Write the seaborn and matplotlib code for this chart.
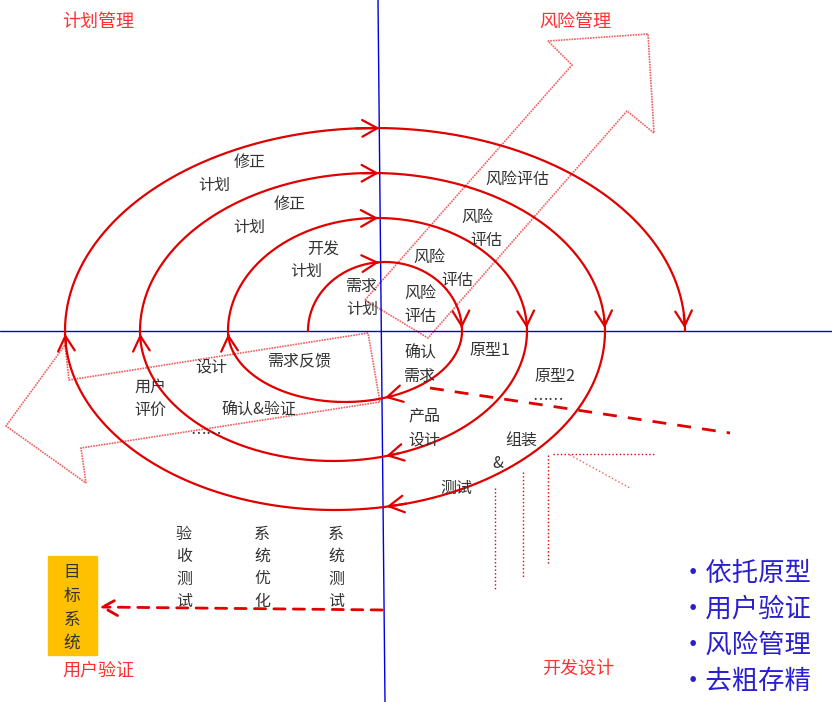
import numpy as np
import matplotlib
matplotlib.use("Agg")
import matplotlib.pyplot as plt
import seaborn as sns
from matplotlib.patches import Polygon, Rectangle

sns.set_theme(style="white")
plt.rcParams["font.family"] = ["Noto Sans CJK SC", "DejaVu Sans"]

RED = "#e00000"
GRAY = "#333333"

# spiral half-ellipses (pixel coords): left x, right x, top/bottom y
upper_left = [308, 228, 140, 65]
upper_right = [462, 527, 605, 685]
upper_top = [262, 218, 173, 128]
lower_right = [462, 527, 605]
lower_left = [228, 140, 65]
lower_bottom = [402, 461, 510]
axis_y = 331

labels = [
    ("修正", 250, 162), ("计划", 214, 185), ("修正", 290, 204), ("计划", 249, 227),
    ("开发", 323, 249), ("计划", 306, 271), ("需求", 362, 286), ("计划", 362, 309),
    ("风险评估", 517, 179), ("风险", 477, 217), ("评估", 486, 240),
    ("风险", 429, 257), ("评估", 457, 280), ("风险", 420, 293), ("评估", 420, 316),
    ("确认", 420, 353), ("需求", 420, 376), ("原型1", 490, 351), ("原型2", 555, 376),
    ("……", 548, 401), ("产品", 424, 416), ("设计", 424, 440),
    ("组装", 521, 441), ("&", 498, 464), ("测试", 456, 488),
    ("设计", 211, 367), ("需求反馈", 300, 361), ("用户", 150, 387), ("评价", 150, 410),
    ("确认&验证", 259, 410), ("……", 206, 434),
]
corner_titles = [("计划管理", 98, 22), ("风险管理", 575, 22), ("用户验证", 98, 670), ("开发设计", 578, 670)]
vertical_labels = [("验收测试", 184), ("系统优化", 262), ("系统测试", 336)]
target_label = "目标系统"
bullets = ["·依托原型", "·用户验证", "·风险管理", "·去粗存精"]

fig = plt.figure(figsize=(8.32, 7.02), dpi=100)
ax = fig.add_axes([0, 0, 1, 1])
ax.set_xlim(0, 832)
ax.set_ylim(702, 0)
ax.axis("off")

# blue axes
ax.plot([0, 832], [axis_y, axis_y], color="#0000dd", lw=1)
ax.plot([378, 385], [0, 702], color="#0000dd", lw=1)

# hollow dotted arrows
up_arrow = [(365, 300), (572, 65), (548, 41), (648, 34), (654, 133), (627, 111), (428, 338)]
left_arrow = [(368, 333), (69, 380), (65, 345), (6, 426), (86, 483), (81, 448), (380, 402)]
for pts in (up_arrow, left_arrow):
    ax.add_patch(Polygon(pts, closed=True, fill=False, ec="#f06060", lw=1.2, ls=(0, (1, 0.6))))


def half_ellipse(x0, x1, y_ext, upper, n=200):
    cx, rx = (x0 + x1) / 2, (x1 - x0) / 2
    ry = abs(axis_y - y_ext)
    t = np.linspace(np.pi, 0, n) if upper else np.linspace(0, -np.pi, n)
    return cx + rx * np.cos(t), axis_y - ry * np.sin(t)


def head(x, y, i, step=6):
    ax.annotate("", xy=(x[i], y[i]), xytext=(x[i - step], y[i - step]),
                arrowprops=dict(arrowstyle="->,head_length=0.9,head_width=0.5", color=RED, lw=1.6))


for x0, x1, yt in zip(upper_left, upper_right, upper_top):
    x, y = half_ellipse(x0, x1, yt, True)
    ax.plot(x, y, color=RED, lw=1.6)
    head(x, y, len(x) - 1)
    head(x, y, int(np.argmin(np.abs(x - 382))))

for x1, x0, yb in zip(lower_right, lower_left, lower_bottom):
    x, y = half_ellipse(x0, x1, yb, False)
    ax.plot(x, y, color=RED, lw=1.6)
    head(x, y, len(x) - 1)
    head(x, y, int(np.argmin(np.abs(x - 382))))

# dashed / dotted red lines
ax.plot([430, 730], [388, 433], color=RED, lw=2, ls=(0, (5, 4)))
for vx, y0, y1 in [(495, 488, 590), (523, 472, 577), (548, 455, 565)]:
    ax.plot([vx, vx], [y0, y1], color=RED, lw=1, ls=":")
ax.plot([553, 655], [454, 454], color=RED, lw=1, ls=":")
ax.plot([570, 630], [455, 488], color="#f06060", lw=1, ls=":")
ax.annotate("", xy=(97, 607), xytext=(385, 610),
            arrowprops=dict(arrowstyle="->,head_length=0.9,head_width=0.5", color=RED, lw=2, ls=(0, (4, 3))))

for txt, x, y in labels:
    ax.text(x, y, txt, ha="center", va="center", fontsize=11.5, color=GRAY)
for txt, x, y in corner_titles:
    ax.text(x, y, txt, ha="center", va="center", fontsize=13, color="#ff3030")
for txt, x in vertical_labels:
    for k, ch in enumerate(txt):
        ax.text(x, 534 + 22.5 * k, ch, ha="center", va="center", fontsize=11.5, color=GRAY)

ax.add_patch(Rectangle((48, 556), 49, 99, color="#ffc000"))
for k, ch in enumerate(target_label):
    ax.text(72, 573 + 23.5 * k, ch, ha="center", va="center", fontsize=12, color=GRAY)

for k, b in enumerate(bullets):
    ax.text(680, 573 + 36 * k, b, ha="left", va="center", fontsize=19, color="#2a1fd0")

fig.savefig("out.png", dpi=100)
